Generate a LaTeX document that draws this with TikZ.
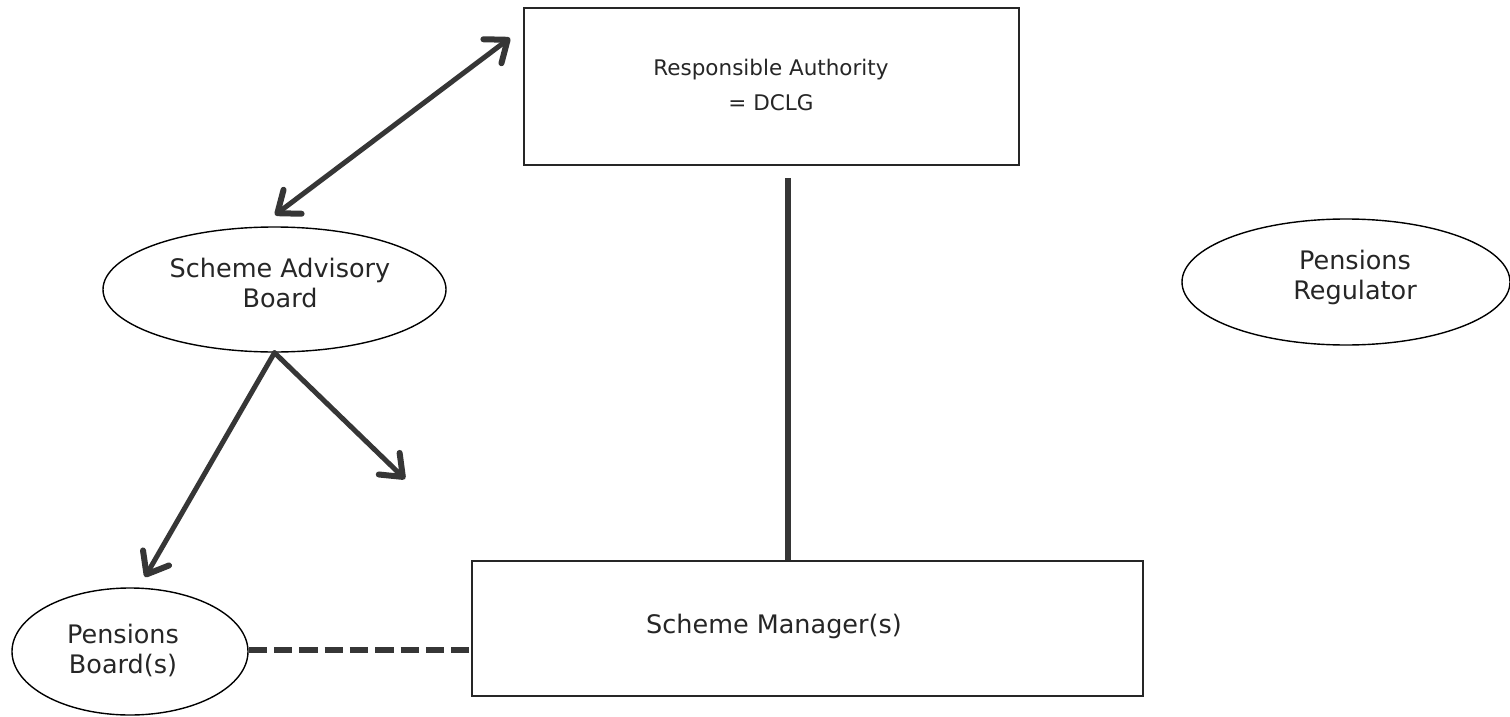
\documentclass[tikz,border=0pt]{standalone}
\usepackage{fontspec}
\setmainfont{DejaVu Sans}
\usetikzlibrary{arrows.meta,shapes.geometric}
\definecolor{ink}{HTML}{262626}
\definecolor{arr}{HTML}{363636}
\begin{document}
\begin{tikzpicture}[x=1pt,y=-1pt,
  box/.style={draw=ink,line width=2pt,inner sep=0pt,rectangle},
  oval/.style={draw=black,line width=1.4pt,ellipse,inner sep=0pt},
  lbl/.style={text=ink,align=center,inner sep=0pt,font=\fontsize{25.5}{30}\selectfont},
  link/.style={draw=arr,line width=5pt,line cap=round,line join=round},
  barb/.tip={Straight Barb[length=19pt,width=30pt,line width=6pt,line cap=round,line join=round]},
  tip/.style={-barb},
  dbltip/.style={barb-barb}]
\useasboundingbox (0,0) rectangle (1510,717);
\fill[white] (0,0) rectangle (1510,717);

% boxes
\node[box,minimum width=495pt,minimum height=157pt] (ra) at (771.5,86.5) {};
\node[box,minimum width=671pt,minimum height=135pt] (sm) at (807.5,628.5) {};

% ellipses
\node[oval,minimum width=343pt,minimum height=125pt] (sab) at (274.5,289.5) {};
\node[oval,minimum width=328pt,minimum height=126pt] (pr) at (1346,282) {};
\node[oval,minimum width=236pt,minimum height=127pt] (pb) at (130,651.5) {};

% texts
\node[lbl,font=\fontsize{21.5}{35}\selectfont] (ratext) at (771,84.5) {Responsible Authority\\= DCLG};
\node[lbl] (smtext) at (774,626.5) {Scheme Manager(s)};
\node[lbl] (sabtext) at (280,282.5) {Scheme Advisory\\Board};
\node[lbl] (prtext) at (1355,277.7) {Pensions\\Regulator};
\node[lbl] (pbtext) at (123,650.5) {Pensions\\Board(s)};

% free ends
\coordinate (d1) at (275,215);
\coordinate (d2) at (510,38);
\coordinate (l1) at (145,577);
\coordinate (r1) at (405,479);
\coordinate (v1) at (788,178);

% connectors
\draw[link,dbltip] (d1) -- (d2);
\draw[link,tip] (sab.south) -- (l1);
\draw[link,tip] (sab.south) -- (r1);
\draw[draw=arr,line width=6pt] (v1) -- (v1 |- sm.north);
\draw[draw=arr,line width=6pt,dash pattern=on 18.3pt off 7pt] (pb.east |- 0,650) -- (sm.west |- 0,650);
\end{tikzpicture}
\end{document}
